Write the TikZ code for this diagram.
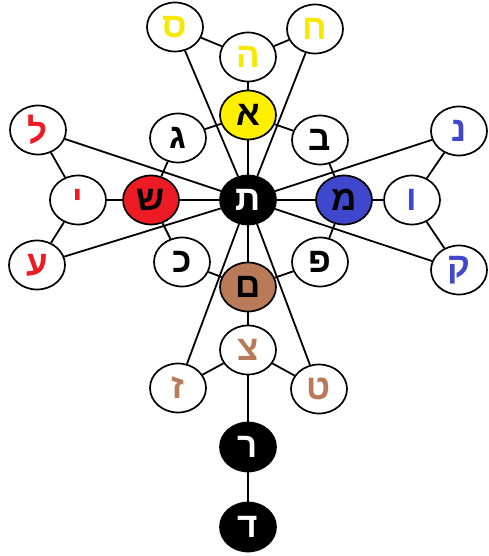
\documentclass[tikz,border=0pt]{standalone}
\usepackage{fontspec}
\newfontfamily\heb[Script=Hebrew]{Liberation Sans}
\TeXXeTstate=1
\usetikzlibrary{shapes.geometric,backgrounds}
\definecolor{pyellow}{HTML}{FFF000}
\definecolor{tyellow}{HTML}{F8E800}
\definecolor{pred}{HTML}{ED1C24}
\definecolor{pblue}{HTML}{3F48CC}
\definecolor{pbrown}{HTML}{B97A57}
\tikzset{
  letter/.style={ellipse,draw=black,line width=1.7pt,minimum width=56pt,minimum height=49pt,inner sep=0pt,font=\heb\bfseries\fontsize{35}{35}\selectfont},
  wl/.style={letter,fill=white},
  bl/.style={letter,fill=black,text=white},
  edge/.style={draw=black,line width=1.8pt},
}
\newcommand{\hb}[1]{\beginR #1\endR}
\begin{document}
\begin{tikzpicture}[x=1pt,y=-1pt]
\useasboundingbox (0,0) rectangle (488,556);
% nodes
\node[bl] (tav) at (248,200) {\hb{ת}};
\node[letter,fill=pyellow] (alef) at (248,115) {\hb{א}};
\node[wl,text=tyellow] (he) at (248,57) {\hb{ה}};
\node[wl,text=tyellow] (samekh) at (175,27) {\hb{ס}};
\node[wl,text=tyellow] (het) at (315,29) {\hb{ח}};
\node[wl] (gimel) at (178,138) {\hb{ג}};
\node[wl] (bet) at (320,140) {\hb{ב}};
\node[letter,fill=pred] (shin) at (151,200) {\hb{ש}};
\node[wl,text=pred] (yod) at (78,200) {\hb{י}};
\node[wl,text=pred] (lamed) at (38,130) {\hb{ל}};
\node[wl,text=pred] (ayin) at (37,265) {\hb{ע}};
\node[letter,fill=pblue] (mem) at (344,200) {\hb{מ}};
\node[wl,text=pblue] (vav) at (412,200) {\hb{ו}};
\node[wl,text=pblue] (nun) at (459,131) {\hb{נ}};
\node[wl,text=pblue] (qof) at (459,270) {\hb{ק}};
\node[wl] (kaf) at (182,262) {\hb{כ}};
\node[wl] (pe) at (320,262) {\hb{פ}};
\node[letter,fill=pbrown] (memf) at (248,287) {\hb{ם}};
\node[wl,text=pbrown] (tsadi) at (248,350) {\hb{צ}};
\node[wl,text=pbrown] (zayin) at (178,388) {\hb{ז}};
\node[wl,text=pbrown] (tet) at (319,389) {\hb{ט}};
\node[bl] (resh) at (248,447) {\hb{ר}};
\node[bl] (dalet) at (248,527) {\hb{ד}};
% edges
\begin{scope}[on background layer]
\draw[edge] (tav) -- (alef);
\draw[edge] (alef) -- (he);
\draw[edge] (he) -- (samekh);
\draw[edge] (he) -- (het);
\draw[edge] (samekh) -- (tav);
\draw[edge] (het) -- (tav);
\draw[edge] (alef) -- (gimel);
\draw[edge] (alef) -- (bet);
\draw[edge] (tav) -- (shin);
\draw[edge] (shin) -- (yod);
\draw[edge] (yod) -- (lamed);
\draw[edge] (yod) -- (ayin);
\draw[edge] (lamed) -- (tav);
\draw[edge] (ayin) -- (tav);
\draw[edge] (shin) -- (gimel);
\draw[edge] (shin) -- (kaf);
\draw[edge] (tav) -- (mem);
\draw[edge] (mem) -- (vav);
\draw[edge] (vav) -- (nun);
\draw[edge] (vav) -- (qof);
\draw[edge] (nun) -- (tav);
\draw[edge] (qof) -- (tav);
\draw[edge] (mem) -- (bet);
\draw[edge] (mem) -- (pe);
\draw[edge] (tav) -- (memf);
\draw[edge] (memf) -- (tsadi);
\draw[edge] (tsadi) -- (zayin);
\draw[edge] (tsadi) -- (tet);
\draw[edge] (zayin) -- (tav);
\draw[edge] (tet) -- (tav);
\draw[edge] (memf) -- (kaf);
\draw[edge] (memf) -- (pe);
\draw[edge] (tsadi) -- (resh);
\draw[edge] (resh) -- (dalet);
\end{scope}
\end{tikzpicture}
\end{document}
